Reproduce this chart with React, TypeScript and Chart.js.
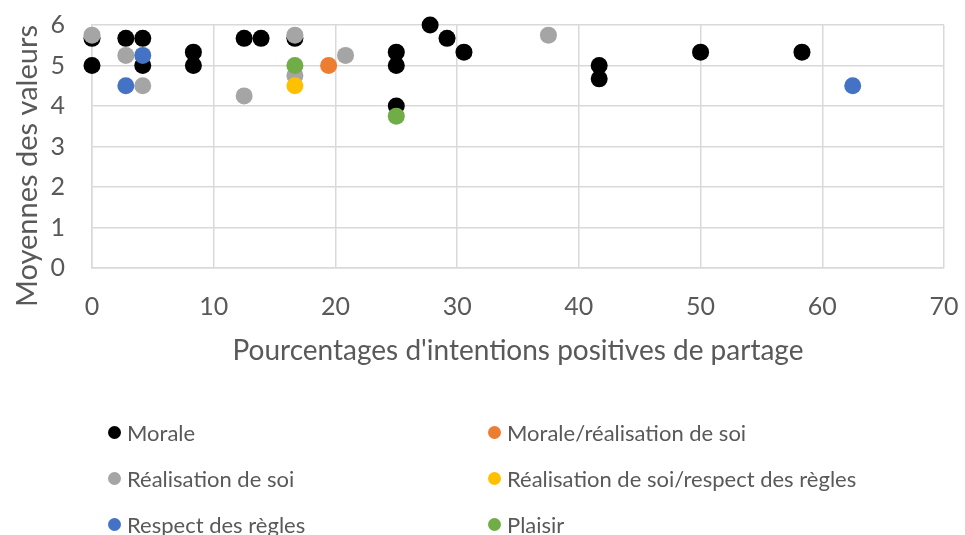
import React, { useEffect, useRef } from "react";
import { Chart, registerables } from "chart.js";

Chart.register(...registerables);

// ---- data ----
const seriesNames = [
  "Morale",
  "Réalisation de soi",
  "Respect des règles",
  "Morale/réalisation de soi",
  "Réalisation de soi/respect des règles",
  "Plaisir",
];
const seriesColors = ["#000000", "#a5a5a5", "#4472c4", "#ed7d31", "#ffc000", "#70ad47"];

const moraleX = [0, 0, 2.78, 4.17, 4.17, 8.33, 8.33, 12.5, 13.89, 16.67, 25, 25, 25, 27.78, 29.17, 30.56, 41.67, 41.67, 50, 58.33];
const moraleY = [5.67, 5, 5.67, 5.67, 5, 5.33, 5, 5.67, 5.67, 5.67, 5.33, 5, 4, 6, 5.67, 5.33, 5, 4.67, 5.33, 5.33];
const realisationX = [0, 2.78, 4.17, 12.5, 16.67, 16.67, 20.83, 37.5];
const realisationY = [5.75, 5.25, 4.5, 4.25, 5.75, 4.75, 5.25, 5.75];
const respectX = [2.78, 4.17, 62.5];
const respectY = [4.5, 5.25, 4.5];
const moraleRealX = [19.44];
const moraleRealY = [5];
const realRespectX = [16.67];
const realRespectY = [4.5];
const plaisirX = [16.67, 25];
const plaisirY = [5, 3.75];

const xTicks = [0, 10, 20, 30, 40, 50, 60, 70];
const yTicks = [0, 1, 2, 3, 4, 5, 6];
const xTitle = "Pourcentages d'intentions positives de partage";
const yTitle = "Moyennes des valeurs";

const seriesX = [moraleX, realisationX, respectX, moraleRealX, realRespectX, plaisirX];
const seriesY = [moraleY, realisationY, respectY, moraleRealY, realRespectY, plaisirY];

const FONT = "Lato, 'Open Sans', sans-serif";
const TEXT = "#595959";
const GRID = "#d9d9d9";

const yTitlePlugin = {
  id: "yTitlePlugin",
  afterDraw(chart: any) {
    const ctx = chart.ctx;
    ctx.save();
    ctx.setTransform(1, 0, 0, 1, 0, 0);
    ctx.translate(28, 166);
    ctx.rotate(-Math.PI / 2);
    ctx.font = `29px ${FONT}`;
    ctx.fillStyle = TEXT;
    ctx.textAlign = "center";
    ctx.textBaseline = "middle";
    ctx.fillText(yTitle, 0, 0);
    ctx.restore();
  },
};

export default function App() {
  const ref = useRef<HTMLCanvasElement | null>(null);

  useEffect(() => {
    if (!ref.current) return;
    const datasets = seriesNames.map((name, i) => ({
      label: name,
      data: seriesX[i].map((x, j) => ({ x, y: seriesY[i][j] })),
      backgroundColor: seriesColors[i],
      borderColor: seriesColors[i],
      pointRadius: 8.5,
      pointHoverRadius: 8.5,
      borderWidth: 0,
      clip: false as any,
      order: seriesNames.length - i,
    }));
    const chart = new Chart(ref.current, {
      type: "scatter",
      data: { datasets },
      options: {
        animation: false,
        responsive: false,
        maintainAspectRatio: false,
        layout: { autoPadding: false, padding: { left: 0, right: 21, top: 25, bottom: 155 } },
        plugins: { legend: { display: false }, tooltip: { enabled: false } },
        scales: {
          x: {
            type: "linear",
            min: xTicks[0],
            max: xTicks[xTicks.length - 1],
            afterFit(scale: any) {
              scale.height = 112;
              scale.paddingLeft = 0;
              scale.paddingRight = 0;
            },
            afterBuildTicks(scale: any) {
              scale.ticks = xTicks.map((v) => ({ value: v }));
            },
            grid: { color: GRID, lineWidth: 1.5, drawTicks: false },
            border: { color: GRID, width: 1.5 },
            ticks: { color: TEXT, font: { family: FONT, size: 25 }, padding: 24 },
            title: {
              display: true,
              text: xTitle,
              color: TEXT,
              font: { family: FONT, size: 28 },
              padding: { top: 0, bottom: 12 },
            },
          },
          y: {
            type: "linear",
            min: yTicks[0],
            max: yTicks[yTicks.length - 1],
            afterFit(scale: any) {
              scale.width = 92;
              scale.paddingTop = 0;
              scale.paddingBottom = 0;
            },
            afterBuildTicks(scale: any) {
              scale.ticks = yTicks.map((v) => ({ value: v }));
            },
            grid: { color: GRID, lineWidth: 1.5, drawTicks: false },
            border: { color: GRID, width: 1.5 },
            ticks: { color: TEXT, font: { family: FONT, size: 25 }, padding: 27 },
          },
        },
      },
      plugins: [yTitlePlugin],
    });
    return () => chart.destroy();
  }, []);

  return (
    <div style={{ position: "fixed", left: 0, top: 0, width: 965, height: 535, background: "#fff" }}>
      <canvas ref={ref} width={965} height={535} style={{ position: "absolute", left: 0, top: 0 }} />
      <div
        style={{
          position: "absolute",
          left: 108,
          top: 409,
          display: "grid",
          gridTemplateColumns: "380px 380px",
          gridTemplateRows: "46px 46px 46px",
          gridAutoFlow: "column",
          fontFamily: FONT,
          fontSize: 22,
          color: TEXT,
        }}
      >
        {seriesNames.map((name, i) => (
          <div key={name} style={{ display: "flex", alignItems: "center", whiteSpace: "nowrap" }}>
            <span
              style={{
                width: 13,
                height: 13,
                borderRadius: "50%",
                background: seriesColors[i],
                display: "inline-block",
                marginRight: 6,
                flex: "none",
              }}
            />
            <span>{name}</span>
          </div>
        ))}
      </div>
    </div>
  );
}
